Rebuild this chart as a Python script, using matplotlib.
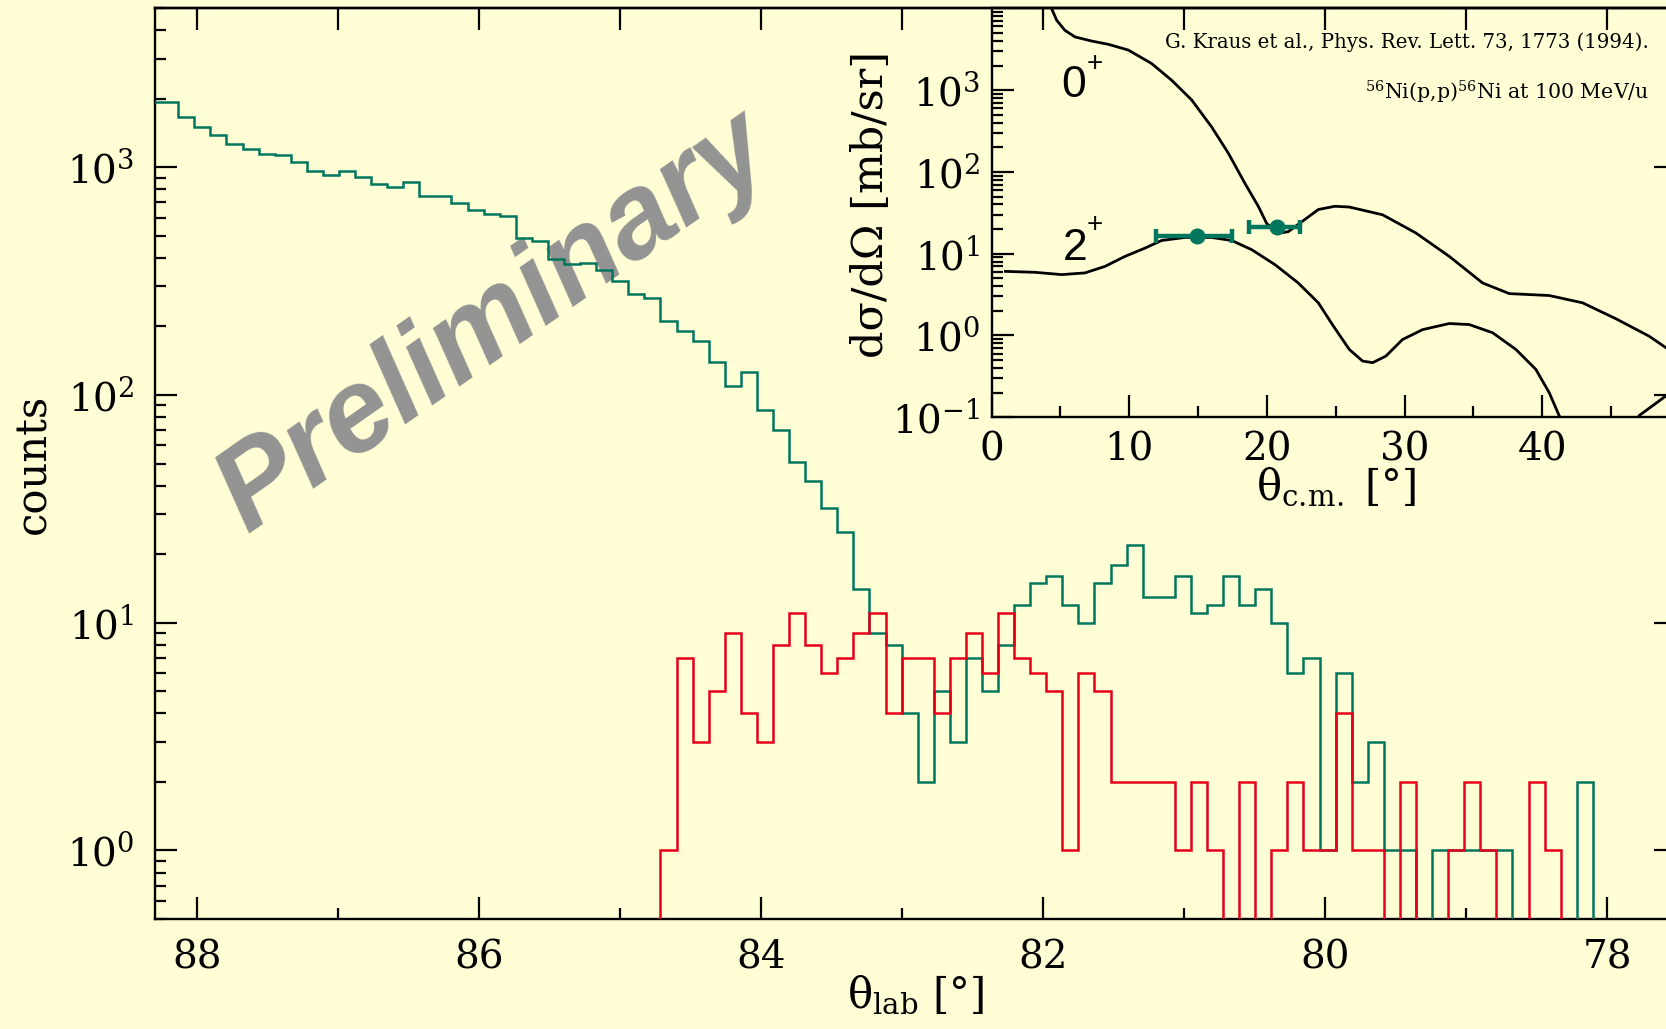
import numpy as np
import matplotlib.pyplot as plt
from matplotlib.ticker import MultipleLocator, LogLocator, FixedLocator, NullFormatter, NullLocator

plt.rcParams['font.family'] = 'DejaVu Serif'
plt.rcParams['mathtext.fontset'] = 'dejavuserif'
plt.rcParams['axes.unicode_minus'] = False

bg = '#fffed5'
teal = '#00765f'
red = '#e5001c'

# lab angle binning (deg), bins run from high to low angle
first_edge = 88.363
bin_width = 0.114

# counts per bin: all events (teal) and gated events (red)
all_counts = [1930, 1930, 1657, 1498, 1382, 1267, 1208, 1140, 1133, 1056,
              964, 923, 967, 908, 848, 817, 859, 751, 746, 693,
              652, 626, 610, 491, 472, 394, 377, 379, 352, 317,
              278, 266, 211, 190, 172, 139, 110, 126, 86, 70,
              51, 42, 32, 25, 14, 9, 8, 4, 2, 5,
              3, 7, 5, 8, 12, 15, 16, 12, 10, 15,
              18, 22, 13, 13, 16, 11, 12, 16, 12, 14,
              10, 6, 7, 1, 6, 2, 3, 1, 1, 0,
              1, 1, 1, 1, 1, 0, 0, 0, 0, 2, 0]
gated_counts = [0] * 32 + [
              1, 7, 3, 5, 9, 4, 3, 8, 11, 8,
              6, 7, 9, 11, 4, 7, 7, 4, 7, 9,
              6, 11, 7, 6, 5, 1, 6, 5, 2, 2,
              2, 2, 1, 2, 1, 0, 2, 0, 1, 2,
              1, 1, 4, 1, 1, 0, 2, 0, 0, 1,
              2, 1, 0, 0, 2, 1, 0, 0, 0]

# 56Ni(p,p) calculations, theta_cm (deg) vs dsigma/dOmega (mb/sr)
gs_theta = [3.5, 4.36, 4.73, 5.33, 6.06, 7.27, 8.48, 9.93, 11.63, 13.08,
            14.53, 15.98, 17.19, 18.40, 19.37, 19.98, 20.82, 21.55, 22.52, 23.73,
            24.94, 25.98, 28.40, 30.82, 33.24, 35.66, 37.60, 40.50, 42.92, 45.35,
            47.76, 48.97]
gs_sigma = [22400, 9900, 7140, 5370, 4470, 3980, 3630, 3090, 2110, 1320,
            759, 355, 170, 72.4, 38.0, 23.4, 17.8, 18.6, 24.5, 34.7,
            38.0, 37.2, 29.9, 17.9, 9.27, 4.39, 3.25, 3.08, 2.51, 1.60,
            0.98, 0.71]
ex_theta = [1.0, 3.15, 5.09, 6.78, 8.24, 9.69, 11.14, 12.35, 14.04, 15.98,
            17.44, 18.89, 20.58, 22.27, 23.73, 24.79, 25.98, 26.95, 27.68, 28.64,
            29.85, 31.31, 33.24, 34.69, 36.39, 38.08, 39.53, 40.50, 41.23, 41.5,
            44.2, 46.7, 47.04, 48.97]
ex_sigma = [6.08, 5.92, 5.55, 5.82, 7.00, 9.27, 11.7, 14.5, 15.8, 15.8,
            14.5, 11.2, 7.35, 4.39, 2.51, 1.33, 0.675, 0.486, 0.465, 0.560,
            0.893, 1.18, 1.40, 1.36, 1.08, 0.675, 0.385, 0.200, 0.104, 0.085,
            0.02, 0.085, 0.105, 0.182]

# measured points (2+ and 0+)
pt_theta = [14.9, 20.7]
pt_sigma = [16.3, 21.5]
pt_err_lo = [2.98, 1.98]
pt_err_hi = [2.54, 1.70]

edges = first_edge - bin_width * np.arange(len(all_counts) + 1)
all_arr = np.array(all_counts, dtype=float)
gated_arr = np.array(gated_counts, dtype=float)
# empty bins drop below the axis
all_arr[all_arr == 0] = 1e-3
gated_arr[gated_arr == 0] = 1e-3

fig = plt.figure(figsize=(16.66, 10.29), dpi=100, facecolor=bg)
ax = fig.add_axes([0.0930, 0.1069, 0.9130, 0.8853], facecolor=bg)

ax.stairs(all_arr[::-1], edges[::-1], baseline=None, color=teal, lw=1.8, zorder=3)
ax.stairs(gated_arr[::-1], edges[::-1], baseline=None, color=red, lw=1.8, zorder=4)

ax.set_yscale('log')
ax.set_xlim(88.30, 77.513)
ax.set_ylim(0.5, 5000)

ax.xaxis.set_major_locator(MultipleLocator(2))
ax.xaxis.set_minor_locator(MultipleLocator(1))
ax.yaxis.set_major_locator(LogLocator(base=10))
ax.yaxis.set_minor_locator(LogLocator(base=10, subs=np.arange(2, 10)))
ax.yaxis.set_minor_formatter(NullFormatter())

ax.tick_params(which='both', direction='in', width=1.6, top=False, right=True, colors='black')
ax.tick_params(which='major', length=16, labelsize=28)
ax.tick_params(which='minor', length=8)
ax.tick_params(axis='x', which='major', pad=15)
ax.tick_params(axis='y', which='major', pad=15)
ax.tick_params(axis='y', which='minor', right=False)
for s in ax.spines.values():
    s.set_linewidth(1.7)

top = ax.secondary_xaxis('top')
top.xaxis.set_major_locator(MultipleLocator(1))
top.xaxis.set_minor_locator(NullLocator())
top.tick_params(direction='in', length=16, width=1.6, labeltop=False)
top.spines['top'].set_linewidth(1.7)

ax.set_xlabel('θ$_{\\mathrm{lab}}$ [°]', fontsize=30)
ax.xaxis.set_label_coords(0.5, -0.060)
ax.set_ylabel('counts', fontsize=30)
ax.yaxis.set_label_coords(-0.066, 0.5)

ax.text(0.3075, 0.662, 'Preliminary', transform=fig.transFigure, rotation=35,
        rotation_mode='anchor', ha='center', va='baseline', fontsize=85.5,
        family='Liberation Sans', weight='bold', style='italic',
        color='#939393', zorder=1)

# inset: angular distributions
axin = fig.add_axes([0.5952, 0.5945, 0.4132, 0.3974], facecolor='none')
axin.plot(gs_theta, gs_sigma, color='black', lw=2)
axin.plot(ex_theta, ex_sigma, color='black', lw=2)
axin.errorbar(pt_theta, pt_sigma, xerr=[pt_err_lo, pt_err_hi], fmt='o', color=teal,
              ms=10.5, elinewidth=3.2, capsize=5, capthick=3.2, zorder=5)

axin.set_yscale('log')
axin.set_xlim(0, 50)
axin.set_ylim(0.1, 1e4)
axin.xaxis.set_major_locator(FixedLocator([0, 10, 20, 30, 40]))
axin.xaxis.set_minor_locator(MultipleLocator(5))
axin.yaxis.set_major_locator(FixedLocator([0.1, 1, 10, 100, 1000]))
axin.yaxis.set_minor_locator(LogLocator(base=10, subs=np.arange(2, 10)))
axin.yaxis.set_minor_formatter(NullFormatter())
axin.tick_params(which='both', direction='in', width=1.6, top=False, right=False)
axin.tick_params(which='major', length=16, labelsize=28)
axin.tick_params(which='minor', length=8)
axin.tick_params(axis='x', which='major', pad=10)
axin.tick_params(axis='y', which='major', pad=8)
for s in axin.spines.values():
    s.set_linewidth(1.7)

axin.set_xlabel('θ$_{\\mathrm{c.\\!m.}}$ [°]', fontsize=30)
axin.xaxis.set_label_coords(0.5, -0.118)
axin.set_ylabel('dσ/dΩ [mb/sr]', fontsize=31)
axin.yaxis.set_label_coords(-0.145, 0.52)

axin.text(0.9554, 0.9022, 'G. Kraus et al., Phys. Rev. Lett. 73, 1773 (1994).',
          transform=axin.transAxes, ha='right', va='baseline', fontsize=14.2)
axin.text(0.9554, 0.777, '$^{56}$Ni(p,p)$^{56}$Ni at 100 MeV/u',
          transform=axin.transAxes, ha='right', va='baseline', fontsize=14.8)

axin.text(0.1008, 0.7839, '0', transform=axin.transAxes, ha='left', va='baseline',
          fontsize=32, family='Liberation Sans')
axin.text(0.1502, 0.865, '+', transform=axin.transAxes, ha='center', va='center',
          fontsize=20, family='Liberation Sans')
axin.text(0.1027, 0.3846, '2', transform=axin.transAxes, ha='left', va='baseline',
          fontsize=32, family='Liberation Sans')
axin.text(0.1502, 0.4702, '+', transform=axin.transAxes, ha='center', va='center',
          fontsize=20, family='Liberation Sans')

fig.savefig('out.png', dpi=100, facecolor=bg)
